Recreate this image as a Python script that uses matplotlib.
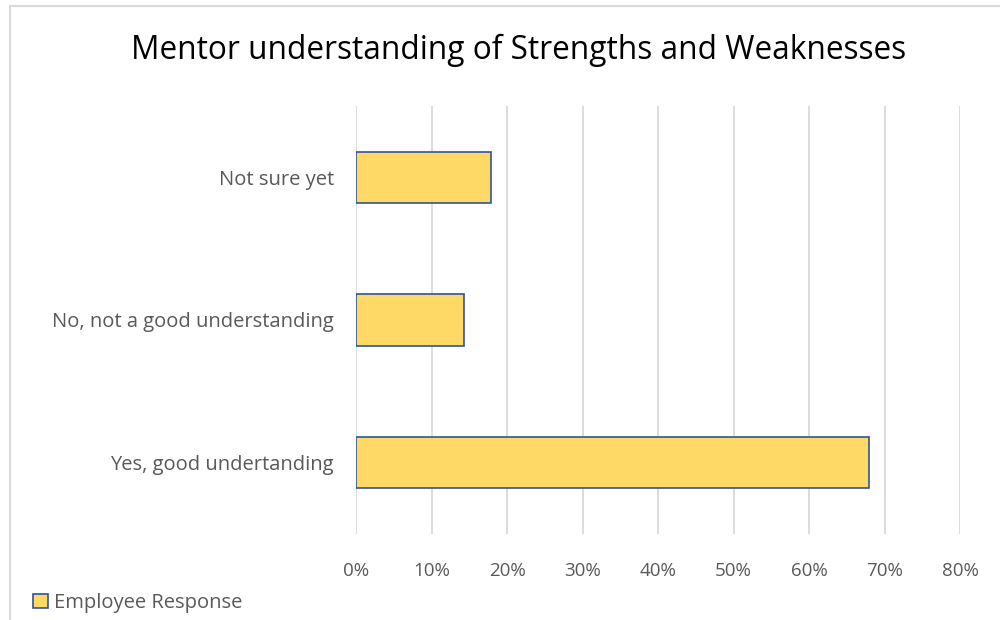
import matplotlib.pyplot as plt
from matplotlib.patches import Rectangle
from matplotlib.ticker import PercentFormatter

# categories from bottom to top
categories = ['Yes, good undertanding', 'No, not a good understanding', 'Not sure yet']
values = [67.9, 14.3, 17.9]
series_name = 'Employee Response'
title = 'Mentor understanding of Strengths and Weaknesses'

plt.rcParams['font.family'] = ['Open Sans', 'DejaVu Sans']
txt_color = '#595959'

fig = plt.figure(figsize=(10, 6.2), dpi=100)
ax = fig.add_axes([0.356, 1 - 534 / 620, 0.604, 428 / 620])

ax.barh(range(len(categories)), values, height=0.36, color='#FFD966',
        edgecolor='#2F5597', linewidth=1.2, zorder=3, label=series_name)

ax.set_xlim(0, 80)
ax.set_ylim(-0.5, len(categories) - 0.5)
ax.set_xticks(range(0, 81, 10))
ax.xaxis.set_major_formatter(PercentFormatter(decimals=0))
ax.set_yticks(range(len(categories)))
ax.set_yticklabels(categories)
ax.grid(axis='x', color='#d9d9d9', linewidth=1.3, zorder=0)
for s in ax.spines.values():
    s.set_visible(False)
ax.tick_params(length=0, colors=txt_color)
ax.tick_params(axis='y', pad=16, labelsize=14.5)
ax.tick_params(axis='x', pad=20, labelsize=13.5)

fig.text(0.519, 1 - 50 / 620, title, ha='center', va='center', fontsize=22.8, color='black')

# outer chart frame (cut off at right and bottom)
fig.patches.append(Rectangle((10 / 1000, -0.1), 1.2, (620 - 6) / 620 + 0.1,
                             transform=fig.transFigure, fill=False,
                             edgecolor='#d9d9d9', linewidth=1.5))

# legend
fig.legend(loc='lower left', bbox_to_anchor=(15 / 1000, -0.018), frameon=False,
           fontsize=14.5, labelcolor=txt_color, handlelength=0.75, handleheight=0.75,
           handletextpad=0.3)

fig.savefig('out.png', dpi=100)
